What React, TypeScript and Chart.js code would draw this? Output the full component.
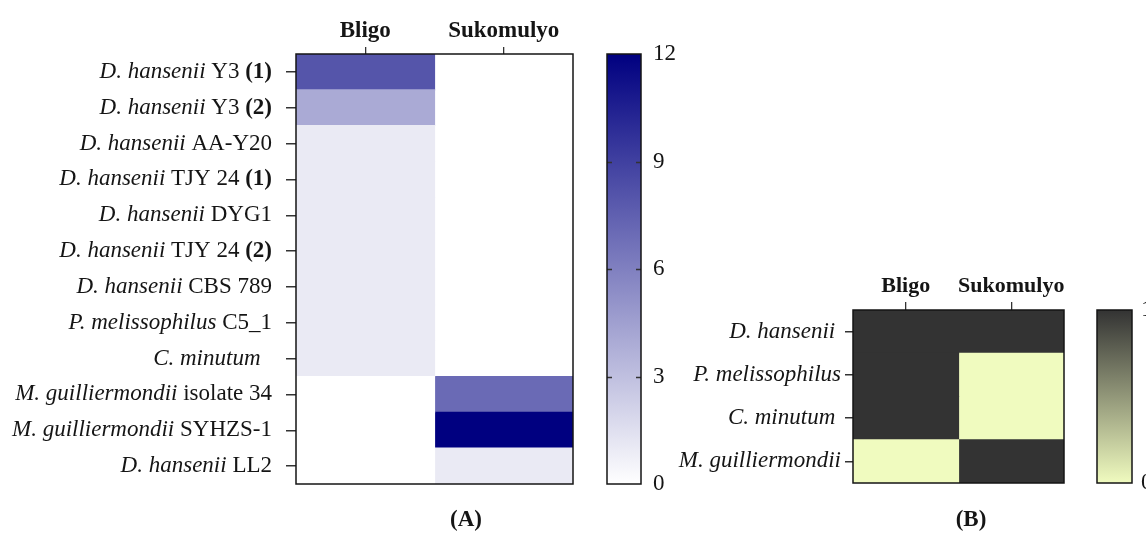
import React, { useEffect, useRef } from 'react';
import { Chart, registerables } from 'chart.js';
Chart.register(...registerables);

// ---------- DATA ----------
const sitesA = ['Bligo', 'Sukomulyo'];
const speciesA = [
  'D. hansenii', 'D. hansenii', 'D. hansenii', 'D. hansenii', 'D. hansenii', 'D. hansenii',
  'D. hansenii', 'P. melissophilus', 'C. minutum', 'M. guilliermondii', 'M. guilliermondii', 'D. hansenii',
];
const strainA = [' Y3 ', ' Y3 ', ' AA-Y20', ' TJY 24 ', ' DYG1', ' TJY 24 ', ' CBS 789', ' C5_1', '  ', ' isolate 34', ' SYHZS-1', ' LL2'];
const suffixA = ['(1)', '(2)', '', '(1)', '', '(2)', '', '', '', '', '', ''];
const bligoCountsA = [8, 4, 1, 1, 1, 1, 1, 1, 1, 0, 0, 0];
const sukomulyoCountsA = [0, 0, 0, 0, 0, 0, 0, 0, 0, 7, 12, 1];
const colorbarMaxA = 12;
const colorbarStepA = 3;

const sitesB = ['Bligo', 'Sukomulyo'];
const speciesB = ['D. hansenii ', 'P. melissophilus', 'C. minutum ', 'M. guilliermondii'];
const bligoPresenceB = [1, 1, 1, 0];
const sukomulyoPresenceB = [1, 0, 0, 1];
const colorbarMaxB = 1;

// ---------- STYLE ----------
const SERIF = '"Liberation Serif", "Times New Roman", serif';
const TEXT = '#151515';
const WHITE = [255, 255, 255];
const NAVY = [0, 0, 128];
const LIGHT = [240, 251, 191];
const DARK = [51, 51, 51];
const lerp = (a: number[], b: number[], t: number) =>
  `rgb(${a.map((v, i) => Math.round(v + (b[i] - v) * t)).join(',')})`;
const colorA = (v: number) => lerp(WHITE, NAVY, v / colorbarMaxA);
const colorB = (v: number) => lerp(LIGHT, DARK, v / colorbarMaxB);

type Part = { t: string; s: 'i' | 'n' | 'b' };

const framePlugin = {
  id: 'frame',
  afterDatasetsDraw(chart: any) {
    const { ctx, chartArea: a } = chart;
    ctx.save();
    ctx.strokeStyle = TEXT;
    ctx.lineWidth = 1.5;
    ctx.strokeRect(a.left, a.top, a.right - a.left, a.bottom - a.top);
    ctx.restore();
  },
};

const makeRichLabels = (rows: Part[][], size: number, gap: number) => ({
  id: 'richLabels',
  afterDraw(chart: any) {
    const { ctx, chartArea } = chart;
    const ys = chart.scales.y;
    ctx.save();
    ctx.fillStyle = TEXT;
    ctx.textBaseline = 'middle';
    ctx.textAlign = 'left';
    const fontOf = (s: string) =>
      `${s === 'i' ? 'italic ' : s === 'b' ? 'bold ' : ''}${size}px ${SERIF}`;
    rows.forEach((parts, i) => {
      const y = ys.getPixelForValue(i);
      const widths = parts.map((p) => {
        ctx.font = fontOf(p.s);
        return ctx.measureText(p.t).width;
      });
      let x = chartArea.left - gap - widths.reduce((a, b) => a + b, 0);
      parts.forEach((p, k) => {
        ctx.font = fontOf(p.s);
        ctx.fillText(p.t, x, y);
        x += widths[k];
      });
    });
    ctx.restore();
  },
});

const innerTicksPlugin = {
  id: 'innerTicks',
  afterDatasetsDraw(chart: any) {
    const { ctx, chartArea: a } = chart;
    const ys = chart.scales.y;
    ctx.save();
    ctx.strokeStyle = '#333';
    ctx.lineWidth = 1.3;
    ys.ticks.forEach((t: any) => {
      if (t.value <= ys.min || t.value >= ys.max) return;
      const y = Math.round(ys.getPixelForValue(t.value)) + 0.5;
      ctx.beginPath();
      ctx.moveTo(a.left, y);
      ctx.lineTo(a.left + 5, y);
      ctx.moveTo(a.right - 5, y);
      ctx.lineTo(a.right, y);
      ctx.stroke();
    });
    ctx.restore();
  },
};

function heatmapConfig(p: {
  rows: Part[][];
  columns: string[];
  values: number[][];
  color: (v: number) => string;
  yWidth: number;
  xHeight: number;
  padding: any;
  labelSize: number;
  headerSize: number;
  labelGap: number;
  xTick: number;
  yTick: number;
}) {
  return {
    type: 'bar',
    data: {
      labels: p.rows.map((r) => r.map((s) => s.t).join('')),
      datasets: p.columns.map((c, ci) => ({
        label: c,
        data: p.values[ci].map(() => [ci, ci + 1]),
        backgroundColor: p.values[ci].map(p.color),
        borderWidth: 0,
        inflateAmount: 0.6,
      })),
    },
    options: {
      indexAxis: 'y',
      responsive: false,
      animation: false,
      layout: { padding: p.padding },
      datasets: { bar: { grouped: false, barPercentage: 1, categoryPercentage: 1 } },
      plugins: { legend: { display: false }, tooltip: { enabled: false } },
      scales: {
        x: {
          type: 'linear',
          position: 'top',
          min: 0,
          max: p.columns.length,
          afterBuildTicks: (s: any) => {
            s.ticks = p.columns.map((_, i) => ({ value: i + 0.5 }));
          },
          afterFit: (s: any) => {
            s.height = p.xHeight;
          },
          ticks: {
            callback: (_v: any, i: number) => p.columns[i],
            font: { family: SERIF, size: p.headerSize, weight: 'bold' },
            color: TEXT,
            padding: 2,
            autoSkip: false,
            maxRotation: 0,
          },
          grid: { display: true, drawOnChartArea: false, drawTicks: true, tickLength: p.xTick, color: '#333', lineWidth: 1.3 },
          border: { display: false },
        },
        y: {
          type: 'category',
          afterFit: (s: any) => {
            s.width = p.yWidth;
          },
          ticks: { display: false },
          grid: { offset: false, drawOnChartArea: false, drawTicks: true, tickLength: p.yTick, color: '#333', lineWidth: 1.5 },
          border: { display: false },
        },
      },
    },
    plugins: [makeRichLabels(p.rows, p.labelSize, p.labelGap), framePlugin],
  };
}

function colorbarConfig(p: {
  max: number;
  step: number;
  from: number[];
  to: number[];
  yWidth: number;
  padding: any;
  size: number;
  inner: boolean;
  labelPad: number;
}) {
  return {
    type: 'bar',
    data: {
      labels: ['scale'],
      datasets: [
        {
          data: [[0, p.max]],
          borderWidth: 0,
          backgroundColor: (c: any) => {
            const a = c.chart.chartArea;
            if (!a) return lerp(p.from, p.to, 0.5);
            const g = c.chart.ctx.createLinearGradient(0, a.bottom, 0, a.top);
            g.addColorStop(0, lerp(p.from, p.to, 0));
            g.addColorStop(0.5, lerp(p.from, p.to, 0.5));
            g.addColorStop(1, lerp(p.from, p.to, 1));
            return g;
          },
        },
      ],
    },
    options: {
      responsive: false,
      animation: false,
      layout: { padding: p.padding },
      datasets: { bar: { barPercentage: 1, categoryPercentage: 1 } },
      plugins: { legend: { display: false }, tooltip: { enabled: false } },
      scales: {
        x: { display: false },
        y: {
          position: 'right',
          min: 0,
          max: p.max,
          afterFit: (s: any) => {
            s.width = p.yWidth;
          },
          ticks: { stepSize: p.step, font: { family: SERIF, size: p.size }, color: TEXT, padding: p.labelPad },
          grid: { display: false, drawTicks: false },
          border: { display: false },
        },
      },
    },
    plugins: p.inner ? [innerTicksPlugin, framePlugin] : [framePlugin],
  };
}

const rowsA: Part[][] = speciesA.map((sp, i) => {
  const parts: Part[] = [{ t: sp, s: 'i' }, { t: strainA[i], s: 'n' }];
  if (suffixA[i]) parts.push({ t: suffixA[i], s: 'b' });
  return parts;
});
const rowsB: Part[][] = speciesB.map((sp) => [{ t: sp, s: 'i' }]);

function ChartCanvas({ config, left, top, width, height }: any) {
  const ref = useRef<HTMLCanvasElement>(null);
  useEffect(() => {
    const chart = new Chart(ref.current as HTMLCanvasElement, config as any);
    return () => chart.destroy();
  }, []);
  return (
    <canvas
      ref={ref}
      width={width}
      height={height}
      style={{ position: 'absolute', left, top, width, height }}
    />
  );
}

export default function App() {
  const cfgA = heatmapConfig({
    rows: rowsA,
    columns: sitesA,
    values: [bligoCountsA, sukomulyoCountsA],
    color: colorA,
    yWidth: 296,
    xHeight: 54,
    padding: { left: 0, top: 0, right: 22, bottom: 49 },
    labelSize: 23,
    headerSize: 23,
    labelGap: 24,
    xTick: 7,
    yTick: 10,
  });
  const cbA = colorbarConfig({
    max: colorbarMaxA,
    step: colorbarStepA,
    from: WHITE,
    to: NAVY,
    yWidth: 54,
    padding: { left: 12, top: 54, right: 0, bottom: 49 },
    size: 23,
    inner: true,
    labelPad: 12,
  });
  const cfgB = heatmapConfig({
    rows: rowsB,
    columns: sitesB,
    values: [bligoPresenceB, sukomulyoPresenceB],
    color: colorB,
    yWidth: 193,
    xHeight: 310,
    padding: { left: 0, top: 0, right: 16, bottom: 50 },
    labelSize: 23,
    headerSize: 22,
    labelGap: 12,
    xTick: 8,
    yTick: 8,
  });
  const cbB = colorbarConfig({
    max: colorbarMaxB,
    step: 1,
    from: LIGHT,
    to: DARK,
    yWidth: 14,
    padding: { left: 17, top: 310, right: 0, bottom: 50 },
    size: 23,
    inner: false,
    labelPad: 9,
  });
  const caption = {
    position: 'absolute' as const,
    top: 506,
    fontFamily: SERIF,
    fontWeight: 'bold',
    fontSize: 23,
    color: TEXT,
    transform: 'translateX(-50%)',
    whiteSpace: 'nowrap' as const,
  };
  return (
    <div style={{ position: 'absolute', left: 0, top: 0, width: 1146, height: 533, overflow: 'hidden', background: '#fff' }}>
      <ChartCanvas config={cfgA} left={0} top={0} width={595} height={533} />
      <ChartCanvas config={cbA} left={595} top={0} width={100} height={533} />
      <ChartCanvas config={cfgB} left={660} top={0} width={420} height={533} />
      <ChartCanvas config={cbB} left={1080} top={0} width={66} height={533} />
      <div style={{ ...caption, left: 466 }}>(A)</div>
      <div style={{ ...caption, left: 971 }}>(B)</div>
    </div>
  );
}
